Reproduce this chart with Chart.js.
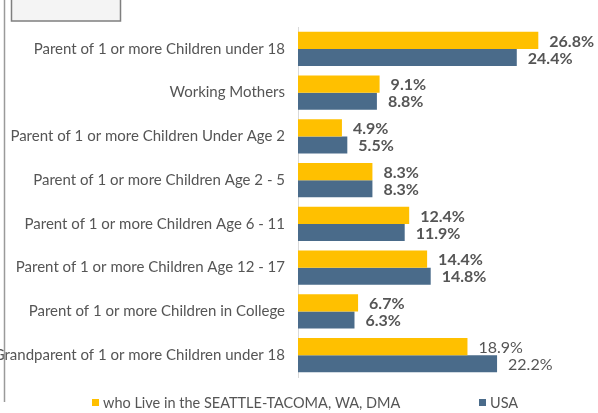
<!DOCTYPE html>
<html>
<head>
<meta charset="utf-8">
<script src="https://cdn.jsdelivr.net/npm/chart.js@4/dist/chart.umd.min.js"></script>
<style>
  html, body { margin: 0; padding: 0; background: #fff; }
  #wrap { width: 598px; height: 413px; position: relative; }
</style>
</head>
<body>
<div id="wrap"><canvas id="grafico"></canvas></div>
<script>
// Categorias y valores (%)
var categorias = [
  'Parent of 1 or more Children under 18',
  'Working Mothers',
  'Parent of 1 or more Children Under Age 2',
  'Parent of 1 or more Children Age 2 - 5',
  'Parent of 1 or more Children Age 6 - 11',
  'Parent of 1 or more Children Age 12 - 17',
  'Parent of 1 or more Children in College',
  'Grandparent of 1 or more Children under 18'
];
var seattle = [26.8, 9.1, 4.9, 8.3, 12.4, 14.4, 6.7, 18.9];
var usa = [24.4, 8.8, 5.5, 8.3, 11.9, 14.8, 6.3, 22.2];
var series = ['who Live in the SEATTLE-TACOMA, WA, DMA', 'USA'];
var colores = ['#FFC000', '#4A6B8A'];

var fuente = 'Lato, "Open Sans", sans-serif';
var gris = '#555555';

// Etiquetas de valor al final de cada barra
var etiquetas = {
  id: 'etiquetas',
  afterDatasetsDraw: function (chart) {
    var ctx = chart.ctx;
    ctx.save();
    ctx.fillStyle = gris;
    ctx.textAlign = 'left';
    ctx.textBaseline = 'middle';
    chart.data.datasets.forEach(function (ds, i) {
      chart.getDatasetMeta(i).data.forEach(function (bar, j) {
        var peso = j === ds.data.length - 1 ? 'normal' : 'bold';
        ctx.font = peso + ' 16px ' + fuente;
        ctx.fillText(ds.data[j].toFixed(1) + '%', bar.x + 11, bar.y + 1);
      });
    });
    ctx.restore();
  }
};

// Leyenda inferior, marco lateral y recuadro superior
var adornos = {
  id: 'adornos',
  afterDraw: function (chart) {
    var ctx = chart.ctx;
    ctx.save();
    // linea lateral izquierda
    ctx.strokeStyle = '#9a9a9a';
    ctx.lineWidth = 1.5;
    ctx.beginPath();
    ctx.moveTo(4.5, 0);
    ctx.lineTo(4.5, 402);
    ctx.stroke();
    // recuadro del logotipo
    ctx.fillStyle = '#f4f4f4';
    ctx.fillRect(12, -2, 108, 23);
    ctx.strokeStyle = '#7f7f7f';
    ctx.strokeRect(11.5, -2, 109, 23);

    // leyenda
    ctx.font = '14.5px ' + fuente;
    ctx.textBaseline = 'middle';
    ctx.textAlign = 'left';
    var xs = [92, 479];
    series.forEach(function (s, i) {
      ctx.fillStyle = colores[i];
      ctx.fillRect(xs[i], 399, 7, 7);
      ctx.fillStyle = gris;
      ctx.fillText(s, xs[i] + 11, 403);
    });
    ctx.restore();
  }
};

var config = {
  type: 'bar',
  data: {
    labels: categorias,
    datasets: [
      { label: series[0], data: seattle, backgroundColor: colores[0] },
      { label: series[1], data: usa, backgroundColor: colores[1] }
    ]
  },
  options: {
    indexAxis: 'y',
    responsive: true,
    maintainAspectRatio: false,
    animation: false,
    layout: { padding: { top: 27, bottom: 36, left: 0, right: 31 } },
    datasets: {
      bar: { categoryPercentage: 0.78, barPercentage: 1 }
    },
    scales: {
      x: { display: false, min: 0, max: 30 },
      y: {
        grid: { display: false, drawTicks: false },
        border: { display: true, color: '#d9d9d9', width: 1 },
        ticks: {
          color: gris,
          padding: 13,
          font: { family: fuente, size: 15 }
        },
        afterFit: function (scale) { scale.width = 298; }
      }
    },
    plugins: {
      legend: { display: false },
      tooltip: { enabled: false }
    }
  },
  plugins: [etiquetas, adornos]
};

var ctx = document.getElementById('grafico').getContext('2d');
var grafico = new Chart(ctx, config);
</script>
</body>
</html>
